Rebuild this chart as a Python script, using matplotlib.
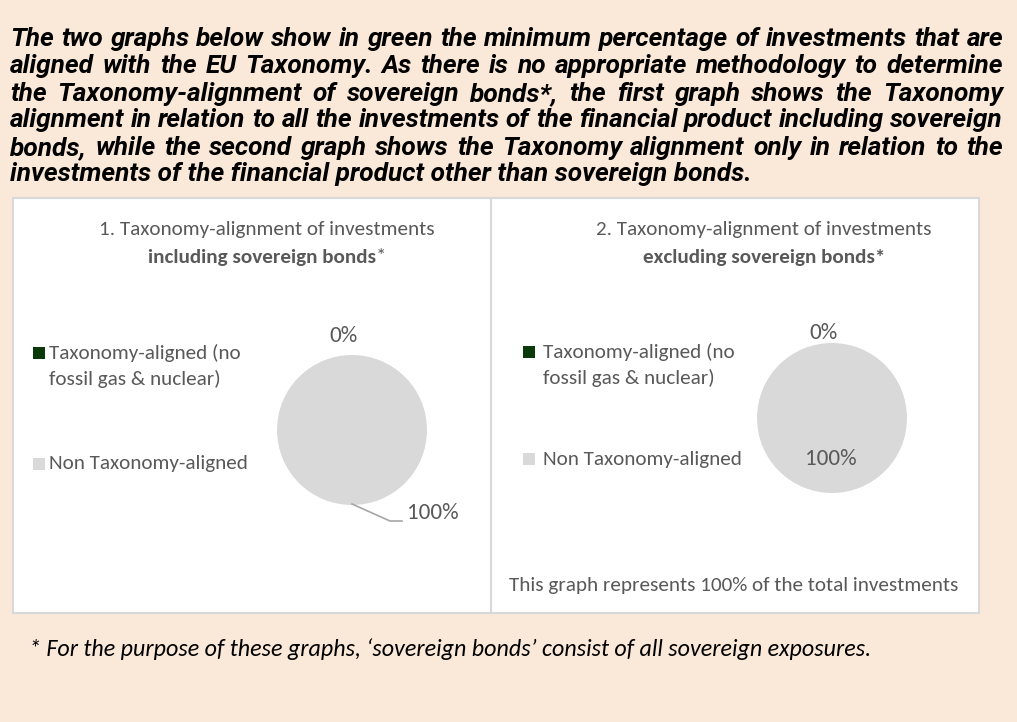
import matplotlib
matplotlib.use("Agg")
import matplotlib.pyplot as plt
from matplotlib.patches import Rectangle
from matplotlib.lines import Line2D

# ---------------- data ----------------
categories = ["Taxonomy-aligned (no\nfossil gas & nuclear)", "Non Taxonomy-aligned"]
incl_values = [0, 100]   # including sovereign bonds
excl_values = [0, 100]   # excluding sovereign bonds
title1 = ["1. Taxonomy-alignment of investments", "including sovereign bonds", "*"]
title2 = ["2. Taxonomy-alignment of investments", "excluding sovereign bonds*", ""]
note2 = "This graph represents 100% of the total investments"
header_lines = [
    "The two graphs below show in green the minimum percentage of investments that are",
    "aligned with the EU Taxonomy. As there is no appropriate methodology to determine",
    "the Taxonomy-alignment of sovereign bonds*, the first graph shows the Taxonomy",
    "alignment in relation to all the investments of the financial product including sovereign",
    "bonds, while the second graph shows the Taxonomy alignment only in relation to the",
    "investments of the financial product other than sovereign bonds.",
]
footnote = "* For the purpose of these graphs, \u2018sovereign bonds\u2019 consist of all sovereign exposures."

# ---------------- style ----------------
W, H = 1017, 722
BG = "#FAE8D8"
GREEN = "#0A3A0A"
GREY = "#D9D9D9"
TXT = "#595959"
colors = [GREEN, GREY]

hkw = dict(family="Roboto", weight="bold", style="italic", color="black")

fig = plt.figure(figsize=(W / 100, H / 100), dpi=100)
fig.patch.set_facecolor(BG)
renderer = fig.canvas.get_renderer()

bg = fig.add_axes([0, 0, 1, 1], zorder=0)
bg.set_xlim(0, W); bg.set_ylim(H, 0); bg.axis("off")
top = fig.add_axes([0, 0, 1, 1], zorder=5)
top.set_xlim(0, W); top.set_ylim(H, 0); top.axis("off")


def width_of(s, **kw):
    t = top.text(0, 0, s, **kw)
    w = t.get_window_extent(renderer).width
    t.remove()
    return w


def fit_size(s, target, **kw):
    return 10 * target / width_of(s, fontsize=10, **kw)


# ---------------- header (justified) ----------------
hfs = fit_size(header_lines[3], 990, **hkw)
x0, x1 = 10, 1003
ys = [39, 66, 94, 120, 148, 174]
for i, (line, y) in enumerate(zip(header_lines, ys)):
    words = line.split(" ")
    if i == len(header_lines) - 1:
        top.text(x0, y, line, fontsize=hfs, va="center", ha="left", **hkw)
        continue
    widths = [width_of(w_, fontsize=hfs, **hkw) for w_ in words]
    gap = (x1 - x0 - sum(widths)) / (len(words) - 1)
    x = x0
    for w_, wd in zip(words, widths):
        top.text(x, y, w_, fontsize=hfs, va="center", ha="left", **hkw)
        x += wd + gap

# ---------------- panels ----------------
bg.add_patch(Rectangle((13, 198), 478, 415, facecolor="white", edgecolor="#D9D9D9", lw=1.5))
bg.add_patch(Rectangle((491, 198), 488, 415, facecolor="white", edgecolor="#D9D9D9", lw=1.5))

tkw = dict(family="Carlito", color=TXT)
tfs = fit_size(title1[0], 337, **tkw)


def draw_title(parts, cx):
    top.text(cx, 229, parts[0], fontsize=tfs, ha="center", va="center", **tkw)
    wb = width_of(parts[1], fontsize=tfs, weight="bold", **tkw)
    wn = width_of(parts[2], fontsize=tfs, **tkw) if parts[2] else 0
    xs = cx - (wb + wn) / 2
    top.text(xs, 257, parts[1], fontsize=tfs, weight="bold", ha="left", va="center", **tkw)
    if parts[2]:
        top.text(xs + wb, 257, parts[2], fontsize=tfs, ha="left", va="center", **tkw)


draw_title(title1, 267)
draw_title(title2, 764)

# ---------------- legends ----------------
lfs = fit_size(categories[1], 200, **tkw)
for xsq, xt, yy1, yy2 in [(33, 49, 353, 464), (523, 543, 352, 459)]:
    bg.add_patch(Rectangle((xsq, yy1 - 6), 12, 12, facecolor=colors[0], edgecolor="none"))
    bg.add_patch(Rectangle((xsq, yy2 - 6), 12, 12, facecolor=colors[1], edgecolor="none"))
    l1, l2 = categories[0].split("\n")
    top.text(xt, yy1, l1, fontsize=lfs, ha="left", va="center", **tkw)
    top.text(xt, yy1 + 26, l2, fontsize=lfs, ha="left", va="center", **tkw)
    top.text(xt, yy2, categories[1], fontsize=lfs, ha="left", va="center", **tkw)


# ---------------- pies ----------------
def pie_axes(cx, cy, r):
    return fig.add_axes([(cx - r) / W, (H - cy - r) / H, 2 * r / W, 2 * r / H], zorder=2)


for vals, (cx, cy) in [(incl_values, (352, 430)), (excl_values, (832, 418))]:
    ax = pie_axes(cx, cy, 75)
    ax.pie(vals, colors=colors, startangle=90, counterclock=False, radius=1,
           wedgeprops=dict(linewidth=0))
    ax.set_xlim(-1, 1); ax.set_ylim(-1, 1); ax.set_aspect("equal"); ax.axis("off")

pfs = fit_size("100%", 52, **tkw)
lab1 = [f"{v:.0f}%" for v in incl_values]
lab2 = [f"{v:.0f}%" for v in excl_values]
top.text(343, 336, lab1[0], fontsize=pfs, ha="center", va="center", **tkw)
top.add_line(Line2D([352, 390, 402], [504, 521, 521], color="#A6A6A6", lw=1.2))
top.text(407, 513, lab1[1], fontsize=pfs, ha="left", va="center", **tkw)
top.text(824, 333, lab2[0], fontsize=pfs, ha="center", va="center", **tkw)
top.text(831, 459, lab2[1], fontsize=pfs, ha="center", va="center", **tkw)

# note
nfs = fit_size(note2, 450, **tkw)
top.text(734, 585, note2, fontsize=nfs, ha="center", va="center", **tkw)

# ---------------- footnote ----------------
fkw = dict(family="Carlito", style="italic", color="black")
ffs = fit_size(footnote, 838, **fkw)
top.text(29, 649, footnote, fontsize=ffs, ha="left", va="center", **fkw)

fig.savefig("out.png", dpi=100, facecolor=BG)
